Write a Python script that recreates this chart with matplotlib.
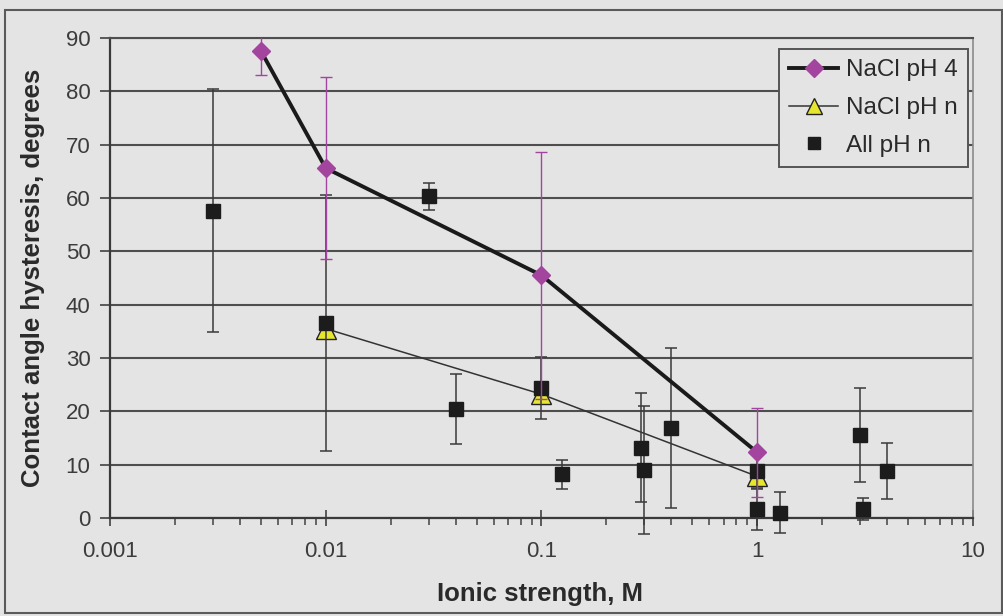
import matplotlib
matplotlib.use("Agg")
import matplotlib.pyplot as plt
from matplotlib.ticker import LogLocator, FixedLocator, NullFormatter
from matplotlib.patches import Rectangle
from matplotlib.lines import Line2D

plt.rcParams['font.family'] = ['Liberation Sans', 'DejaVu Sans']

# ---- data ----
ph4_x = [0.005, 0.01, 0.1, 1.0]
ph4_y = [87.6, 65.6, 45.5, 12.3]
ph4_err = [4.6, 17.1, 23.1, 8.3]

phn_x = [0.01, 0.1, 1.0]
phn_y = [35.5, 23.2, 7.8]

all_x = [0.003, 0.01, 0.03, 0.04, 0.1, 0.125, 0.29, 0.30, 0.4, 1.0, 1.0, 1.28, 3.0, 3.1, 4.0]
all_y = [57.6, 36.5, 60.3, 20.4, 24.4, 8.2, 13.2, 9.0, 16.8, 8.8, 1.7, 1.0, 15.6, 1.7, 8.8]
all_err = [22.8, 24.0, 2.6, 6.6, 5.8, 2.7, 10.2, 12.0, 15.0, 3.3, 4.0, 3.9, 8.8, 2.1, 5.2]

y_ticks = [0, 10, 20, 30, 40, 50, 60, 70, 80, 90]
x_ticks = [0.001, 0.01, 0.1, 1, 10]
x_ticklabels = ['0.001', '0.01', '0.1', '1', '10']

BG = '#e4e4e4'
GRID = '#4e4e4e'
MAG = '#a3449e'
TXT = '#3c3c3c'

fig = plt.figure(figsize=(10.04, 6.16), dpi=100, facecolor=BG)
ax = fig.add_axes([110/1004, 1-518/616, (973-110)/1004, (518-38)/616])
ax.set_facecolor(BG)

ax.set_xscale('log')
ax.set_xlim(0.001, 10)
ax.set_ylim(0, 90)

# gridlines
ax.set_yticks(y_ticks)
ax.yaxis.grid(True, color=GRID, lw=1.5)
ax.set_axisbelow(True)

# series: NaCl pH n (triangles)
ax.plot(phn_x, phn_y, color='#333333', lw=1.1, zorder=3)
ax.plot(phn_x, phn_y, ls='none', marker='^', ms=14, mfc='#e6e62e', mec='#222222', mew=1.0, zorder=4)

# series: All pH n (squares with error bars)
ax.errorbar(all_x, all_y, yerr=all_err, fmt='s', ms=10, mfc='#1c1c1c', mec='#1c1c1c',
            ecolor='#3a3a3a', elinewidth=1.1, capsize=4, capthick=1.1, zorder=5, clip_on=False)

# series: NaCl pH 4 (diamonds with error bars)
ax.errorbar(ph4_x, ph4_y, yerr=ph4_err, fmt='none', ecolor=MAG, elinewidth=1.0,
            capsize=4, capthick=1.0, zorder=6)
ax.plot(ph4_x, ph4_y, color='#1a1a1a', lw=2.8, zorder=6)
ax.plot(ph4_x, ph4_y, ls='none', marker='D', ms=9, mfc=MAG, mec=MAG, zorder=7)

# legend
h1 = Line2D([], [], color='#1a1a1a', lw=2.8, marker='D', ms=9, mfc=MAG, mec=MAG)
h2 = Line2D([], [], color='#333333', lw=1.1, marker='^', ms=12, mfc='#e6e62e', mec='#222222')
h3 = Line2D([], [], ls='none', marker='s', ms=9, mfc='#1c1c1c', mec='#1c1c1c')
leg = fig.legend([h1, h2, h3], ['NaCl pH 4', 'NaCl pH n', 'All pH n'],
                 loc='upper left', bbox_to_anchor=(779/1004, 1-49/616),
                 fontsize=17.5, frameon=True, fancybox=False, framealpha=1,
                 facecolor=BG, edgecolor='#555555', handlelength=2.0,
                 handletextpad=0.35, labelspacing=0.65, borderpad=0.42,
                 borderaxespad=0)
leg.get_frame().set_linewidth(1.4)
for t in leg.get_texts():
    t.set_color('#2a2a2a')

# ticks
ax.xaxis.set_major_locator(FixedLocator(x_ticks))
ax.set_xticklabels(x_ticklabels)
ax.xaxis.set_minor_locator(LogLocator(base=10, subs=range(2, 10)))
ax.xaxis.set_minor_formatter(NullFormatter())
ax.tick_params(axis='x', which='major', direction='inout', length=11, width=1.3,
               color=GRID, labelsize=16, labelcolor=TXT, pad=11)
ax.tick_params(axis='x', which='minor', direction='out', length=5, width=1.2, color=GRID)
ax.tick_params(axis='y', which='major', direction='out', length=7, width=1.3,
               color=GRID, labelsize=16, labelcolor=TXT, pad=7)

for s in ['left', 'bottom']:
    ax.spines[s].set_color('#3a3a3a')
    ax.spines[s].set_linewidth(1.6)
ax.spines['right'].set_color('#8a8a8a')
ax.spines['right'].set_linewidth(1.2)
ax.spines['top'].set_color(GRID)
ax.spines['top'].set_linewidth(1.5)

# axis titles
fig.text(540/1004, 1-601/616, 'Ionic strength, M', ha='center', va='baseline',
         fontsize=18.5, fontweight='bold', color='#2a2a2a')
fig.text(33/1004, 1-278/616, 'Contact angle hysteresis, degrees', ha='center', va='center',
         rotation=90, fontsize=18.5, fontweight='bold', color='#2a2a2a')

# outer chart border
fig.patches.append(Rectangle((5/1004, 1-613/616), (1002-5)/1004, (613-10)/616,
                             transform=fig.transFigure, fill=False,
                             edgecolor='#5a5a5a', lw=1.5))

fig.savefig('out.png', dpi=100, facecolor=BG)
